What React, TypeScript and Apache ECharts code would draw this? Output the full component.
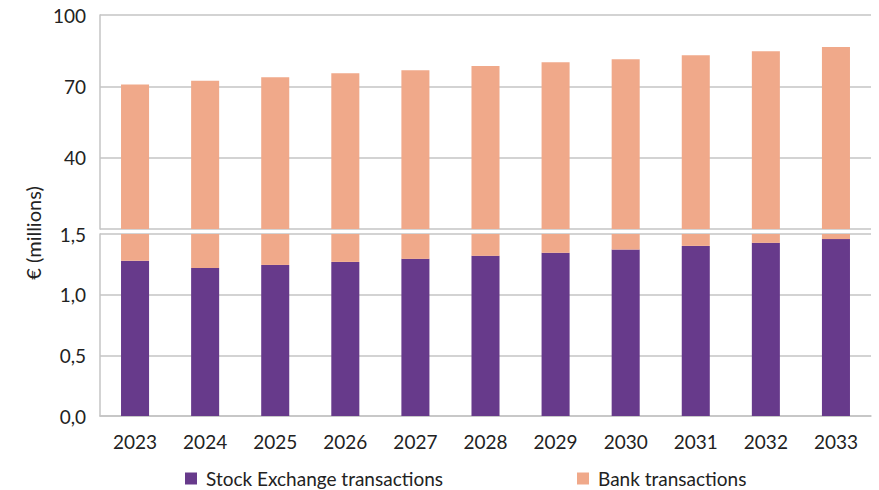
import React, { useEffect, useRef } from "react";
import * as echarts from "echarts";

const years = ["2023", "2024", "2025", "2026", "2027", "2028", "2029", "2030", "2031", "2032", "2033"];
const stockExchange = [1.28, 1.22, 1.245, 1.27, 1.295, 1.32, 1.345, 1.372, 1.402, 1.427, 1.458];
const bank = [70.8, 72.4, 73.8, 75.5, 76.8, 78.5, 80.1, 81.4, 83.1, 84.8, 86.5];
const upperTicks = { min: 10, max: 100, interval: 30 };
const lowerTicks = { min: 0, max: 1.5, interval: 0.5 };

const PURPLE = "#673a8b";
const PEACH = "#f0a98a";
const GRID = "#c4c4c4";
const TEXT = "#222222";
const FONT = "Lato";
const FS = 19;

export default function App() {
  const ref = useRef<HTMLDivElement>(null);
  useEffect(() => {
    document.body.style.margin = "0";
    const chart = echarts.init(ref.current!, null, { renderer: "svg" });
    const lbl = { color: TEXT, fontFamily: FONT, fontSize: FS };
    chart.setOption({
      animation: false,
      textStyle: { fontFamily: FONT },
      grid: [
        { left: 100, right: 8, top: 15, height: 214 },
        { left: 100, right: 8, top: 234, height: 182 },
      ],
      xAxis: [
        {
          type: "category", gridIndex: 0, data: years,
          axisLine: { show: false }, axisTick: { show: false }, axisLabel: { show: false },
        },
        {
          type: "category", gridIndex: 1, data: years,
          axisLine: { show: true, lineStyle: { color: GRID, width: 1.5 } },
          axisTick: { show: false },
          axisLabel: { ...lbl, margin: 16 },
        },
      ],
      yAxis: [
        {
          type: "value", gridIndex: 0, min: upperTicks.min, max: upperTicks.max, interval: upperTicks.interval,
          axisLine: { show: true, lineStyle: { color: GRID, width: 1.5 } },
          axisTick: { show: false },
          splitLine: { lineStyle: { color: GRID, width: 1.5 } },
          axisLabel: { ...lbl, margin: 14, showMinLabel: false, formatter: (v: number) => (v === upperTicks.min ? "" : String(v)) },
        },
        {
          type: "value", gridIndex: 1, min: lowerTicks.min, max: lowerTicks.max, interval: lowerTicks.interval,
          axisLine: { show: true, lineStyle: { color: GRID, width: 1.5 } },
          axisTick: { show: false },
          splitLine: { lineStyle: { color: GRID, width: 1.5 } },
          axisLabel: { ...lbl, margin: 14, formatter: (v: number) => v.toFixed(1).replace(".", ",") },
        },
      ],
      legend: [
        {
          data: ["Stock Exchange transactions"], left: 185, top: 469, padding: 0, itemWidth: 12, itemHeight: 12,
          textStyle: { color: TEXT, fontFamily: FONT, fontSize: FS, padding: [0, 0, 0, 4] }, icon: "rect",
        },
        {
          data: ["Bank transactions"], left: 577, top: 469, padding: 0, itemWidth: 12, itemHeight: 12,
          textStyle: { color: TEXT, fontFamily: FONT, fontSize: FS, padding: [0, 0, 0, 4] }, icon: "rect",
        },
      ],
      graphic: [
        {
          type: "text", x: 33, y: 233, rotation: Math.PI / 2,
          style: { text: "€ (millions)", fill: TEXT, font: `20px ${FONT}`, align: "center", verticalAlign: "middle" },
        },
      ],
      series: [
        {
          name: "Bank transactions", type: "bar", xAxisIndex: 0, yAxisIndex: 0, data: bank,
          barWidth: "40%", itemStyle: { color: PEACH },
        },
        {
          name: "Stock Exchange transactions", type: "bar", xAxisIndex: 1, yAxisIndex: 1, data: stockExchange,
          stack: "low", barWidth: "40%", itemStyle: { color: PURPLE },
        },
        {
          name: "Bank transactions", type: "bar", xAxisIndex: 1, yAxisIndex: 1, data: bank,
          stack: "low", barWidth: "40%", itemStyle: { color: PEACH }, clip: true,
        },
      ],
    });
    return () => chart.dispose();
  }, []);
  return <div ref={ref} style={{ width: 879, height: 490 }} />;
}
